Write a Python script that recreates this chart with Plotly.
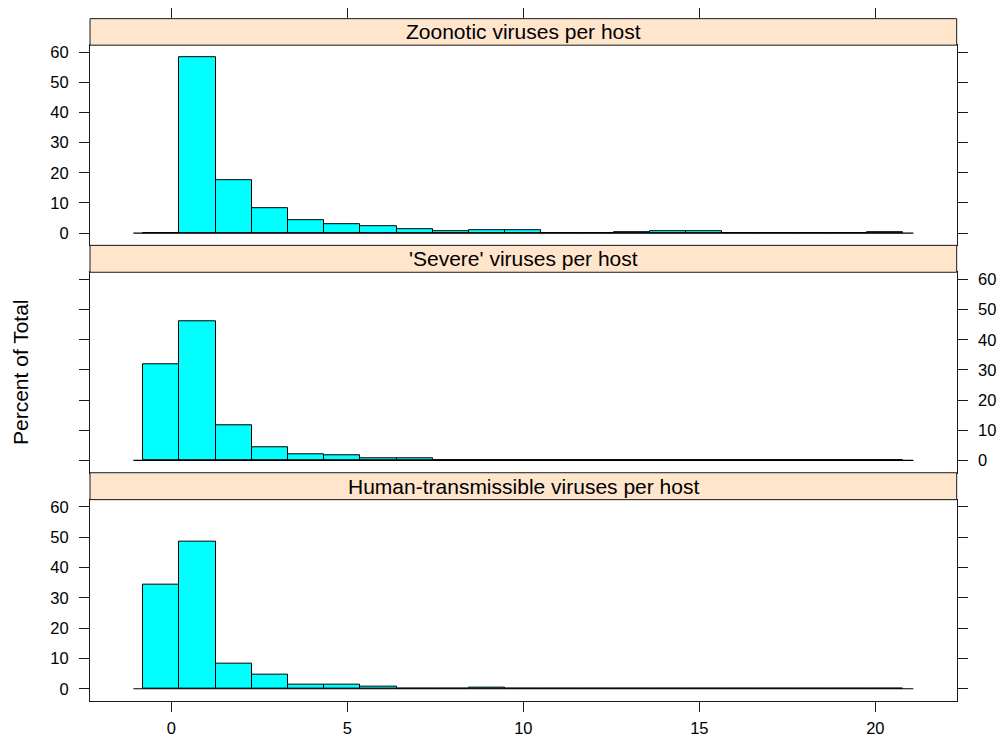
import numpy as np
import plotly.graph_objects as go

# Histogram bins shared by all three panels (21 equal-width bins)
BREAK_LO = -0.8
BREAK_HI = 20.8
N_BINS = 21

panel_titles = [
    "Zoonotic viruses per host",
    "'Severe' viruses per host",
    "Human-transmissible viruses per host",
]

# Percent of hosts falling in each bin
zoonotic_pct = [0, 58.3, 17.5, 8.2, 4.4, 2.85, 2.4, 1.4, 0.66, 1.0, 1.0,
                0, 0, 0.3, 0.5, 0.5, 0, 0, 0, 0, 0.15]
severe_pct = [31.9, 46.1, 11.65, 4.4, 2.0, 1.65, 0.88, 0.88, 0, 0, 0,
              0, 0, 0, 0, 0, 0, 0, 0, 0, 0]
human_pct = [34.3, 48.5, 8.4, 4.6, 1.2, 1.2, 0.65, 0.15, 0.15, 0.35, 0,
             0.15, 0, 0, 0, 0, 0, 0, 0, 0, 0]

x_ticks = [0, 5, 10, 15, 20]
y_ticks = [0, 10, 20, 30, 40, 50, 60]

series = [zoonotic_pct, severe_pct, human_pct]

breaks = np.linspace(BREAK_LO, BREAK_HI, N_BINS + 1)
centers = (breaks[:-1] + breaks[1:]) / 2
widths = np.diff(breaks)

# lattice-style 7% padding of the limits
xpad = 0.07 * (BREAK_HI - BREAK_LO)
xrange_ = [BREAK_LO - xpad, BREAK_HI + xpad]
ymax = max(max(s) for s in series)
yrange_ = [-0.07 * ymax, ymax * 1.07]
base_pad = 0.28  # baseline overhang beyond the outer bin edges

W, H = 1001, 742
left_px, right_px = 90, 956.7
x_dom = [left_px / W, right_px / W]

# (strip_top, strip_bottom=plot_top, plot_bottom) in pixels
panels_px = [(16.7, 43.3, 244.0), (244.0, 271.0, 472.0), (472.0, 499.0, 701.0)]

FONT = "Liberation Sans, Arial, sans-serif"
LINE = "#1a1a1a"
STRIP_FILL = "#FFE5CC"
BAR_FILL = "#00FFFF"

fig = go.Figure()
shapes = []
annotations = []

for i, (vals, title, (s_top, p_top, p_bot)) in enumerate(zip(series, panel_titles, panels_px)):
    n = "" if i == 0 else str(i + 1)
    xa, ya = "x" + n, "y" + n
    fig.add_trace(go.Scatter(
        x=[BREAK_LO - base_pad, BREAK_HI + base_pad], y=[0, 0],
        mode="lines", line=dict(color="black", width=1.2),
        xaxis=xa, yaxis=ya, hoverinfo="skip", showlegend=False))
    fig.add_trace(go.Bar(
        x=centers, y=vals, width=widths,
        marker=dict(color=BAR_FILL, line=dict(color="black", width=1)),
        xaxis=xa, yaxis=ya, showlegend=False))

    y_dom = [1 - p_bot / H, 1 - p_top / H]
    is_bottom = i == 2
    fig.layout["xaxis" + n] = dict(
        domain=x_dom, anchor=ya, range=xrange_,
        showline=True, linecolor=LINE, linewidth=1, mirror=True,
        showgrid=False, zeroline=False,
        ticks="outside" if is_bottom else "", ticklen=10, tickcolor=LINE,
        tickvals=x_ticks, showticklabels=is_bottom,
        tickfont=dict(family=FONT, size=16.5, color="black"),
        ticklabelstandoff=2,
        **({} if i == 0 else {"matches": "x"}),
    )
    fig.layout["yaxis" + n] = dict(
        domain=y_dom, anchor=xa, range=yrange_,
        side="right" if i == 1 else "left",
        showline=True, linecolor=LINE, linewidth=1, mirror="ticks",
        showgrid=False, zeroline=False,
        ticks="outside", ticklen=10, tickcolor=LINE,
        tickvals=y_ticks, showticklabels=True,
        tickfont=dict(family=FONT, size=16.5, color="black"),
        ticklabelstandoff=7,
    )

    # strip header
    shapes.append(dict(
        type="rect", xref="paper", yref="paper",
        x0=x_dom[0], x1=x_dom[1], y0=1 - p_top / H, y1=1 - s_top / H,
        fillcolor=STRIP_FILL, line=dict(color=LINE, width=1), layer="above"))
    annotations.append(dict(
        text=title, xref="paper", yref="paper",
        x=(x_dom[0] + x_dom[1]) / 2, y=1 - (s_top + p_top) / 2 / H,
        xanchor="center", yanchor="middle", showarrow=False,
        font=dict(family=FONT, size=21, color="black")))

# tick marks above the top strip
top_strip = panels_px[0]
fig.add_trace(go.Scatter(x=[], y=[], xaxis="x4", yaxis="y4", showlegend=False))
fig.layout["xaxis4"] = dict(
    domain=x_dom, anchor="y4", range=xrange_, side="top",
    showline=False, showgrid=False, zeroline=False,
    ticks="outside", ticklen=10, tickcolor=LINE, tickvals=x_ticks,
    showticklabels=False)
fig.layout["yaxis4"] = dict(
    domain=[1 - top_strip[1] / H, 1 - top_strip[0] / H], anchor="x4",
    visible=False, range=[0, 1])

annotations.append(dict(
    text="Percent of Total", xref="paper", yref="paper",
    x=20 / W, y=1 - 371 / H, xanchor="center", yanchor="middle",
    textangle=-90, showarrow=False,
    font=dict(family=FONT, size=21, color="black")))

fig.update_layout(
    width=W, height=H,
    margin=dict(l=0, r=0, t=0, b=0),
    paper_bgcolor="white", plot_bgcolor="white",
    bargap=0, barmode="overlay",
    shapes=shapes, annotations=annotations,
    showlegend=False,
)

fig.write_html("out.html")
